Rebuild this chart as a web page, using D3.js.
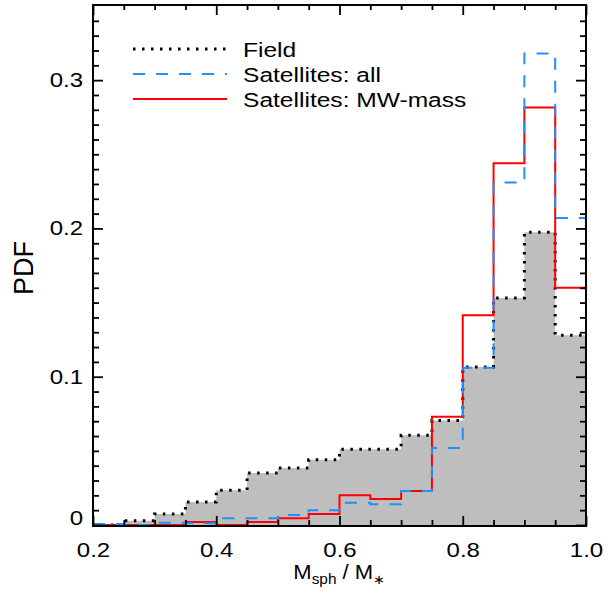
<!DOCTYPE html>
<html>
<head>
<meta charset="utf-8">
<script src="https://cdn.jsdelivr.net/npm/d3@7"></script>
<style>
  body { margin: 0; background: white; }
  svg text { font-family: "Liberation Sans", Arial, sans-serif; fill: #000; white-space: pre; }
</style>
</head>
<body>
<svg id="chart" width="616" height="592"></svg>
<script>
// bin left edges (width 0.05)
const binEdges = [0.20, 0.25, 0.30, 0.35, 0.40, 0.45, 0.50, 0.55, 0.60, 0.65, 0.70, 0.75, 0.80, 0.85, 0.90, 0.95];
const binEnd = 1.0;

// PDF values
const field  = [0.000, 0.0028, 0.0075, 0.0155, 0.0235, 0.035, 0.0385, 0.044, 0.051, 0.051, 0.0605, 0.0705, 0.1065, 0.153, 0.1975, 0.128];
const satAll = [0.0007, 0.000, 0.0015, 0.0012, 0.0045, 0.0045, 0.0067, 0.010, 0.015, 0.014, 0.023, 0.052, 0.106, 0.231, 0.318, 0.207];
const satMW  = [0.000, 0.000, 0.000, 0.002, 0.000, 0.002, 0.0045, 0.0074, 0.020, 0.0175, 0.023, 0.073, 0.1415, 0.244, 0.2815, 0.160];

const xMajor = [0.2, 0.4, 0.6, 0.8, 1.0];
const xMinor = [0.25, 0.3, 0.35, 0.45, 0.5, 0.55, 0.65, 0.7, 0.75, 0.85, 0.9, 0.95];
const yMajor = [0, 0.1, 0.2, 0.3];
const yMinorStep = 0.01;

const legendNames = ["Field", "Satellites: all", "Satellites: MW-mass"];

const svg = d3.select("#chart");
const mLeft = 93, mRight = 586, mTop = 5, mBottom = 526;

const x = d3.scaleLinear().domain([0.2, 1.0]).range([mLeft, mRight]);
const y = d3.scaleLinear().domain([0, 0.35]).range([525, 6]);

// tick label font is drawn wide in the original
const FS = 20, SX = 1.2;

// step points: each bin start plus final edge
const steps = vals => binEdges.map((e, i) => [e, vals[i]]).concat([[binEnd, vals[vals.length - 1]]]);

// gray fill under the field
const area = d3.area()
  .x(d => x(d[0])).y0(y(0)).y1(d => y(d[1]))
  .curve(d3.curveStepAfter);
svg.append("path").attr("d", area(steps(field))).attr("fill", "#bebebe");

const line = d3.line().x(d => x(d[0])).y(d => y(d[1])).curve(d3.curveStepAfter);

const styles = [
  { stroke: "#000", width: 3, dash: "2.5,6.5" },
  { stroke: "#1e90ff", width: 2, dash: "12,11" },
  { stroke: "#ff0000", width: 2, dash: null }
];

svg.append("path").attr("d", line(steps(field)))
  .attr("fill", "none").attr("stroke", styles[0].stroke)
  .attr("stroke-width", styles[0].width).attr("stroke-dasharray", styles[0].dash);
svg.append("path").attr("d", line(steps(satMW)))
  .attr("fill", "none").attr("stroke", styles[2].stroke)
  .attr("stroke-width", styles[2].width);
svg.append("path").attr("d", line(steps(satAll)))
  .attr("fill", "none").attr("stroke", styles[1].stroke)
  .attr("stroke-width", styles[1].width).attr("stroke-dasharray", styles[1].dash);

// axes: ticks point inward on all four sides
const yMinor = d3.range(0, 0.35, yMinorStep).filter(v => !yMajor.some(m => Math.abs(m - v) < 1e-6));

function ticks(axis, tr, vals, len, labels, pad) {
  const g = svg.append("g").attr("transform", tr)
    .call(axis.tickValues(vals).tickSizeInner(-len).tickSizeOuter(0)
      .tickPadding(pad || 0).tickFormat(labels ? labels : ""));
  g.select(".domain").remove();
  g.selectAll("line").attr("stroke", "#000").attr("stroke-width", 1.8);
  g.selectAll("text").attr("font-size", FS).attr("font-family", null);
  return g;
}

const fmtX = d3.format(".1f");
const fmtY = d => d === 0 ? "0" : d3.format(".1f")(d);

const gx = ticks(d3.axisBottom(x), `translate(0,${mBottom})`, xMajor, 10, fmtX, 17);
gx.selectAll("text").attr("transform", `scale(${SX},1)`);
ticks(d3.axisBottom(x), `translate(0,${mBottom})`, xMinor, 6);
ticks(d3.axisTop(x), `translate(0,${mTop})`, xMajor, 10);
ticks(d3.axisTop(x), `translate(0,${mTop})`, xMinor, 5);

const gy = ticks(d3.axisLeft(y), `translate(${mLeft},0)`, yMajor, 10, fmtY, 10);
gy.selectAll("text").attr("transform", `scale(${SX},1)`).attr("x", -10 / SX)
  .attr("y", d => d === 0 ? -7 : 0);
ticks(d3.axisLeft(y), `translate(${mLeft},0)`, yMinor, 6);
ticks(d3.axisRight(y), `translate(${mRight},0)`, yMajor, 10);
ticks(d3.axisRight(y), `translate(${mRight},0)`, yMinor, 6);

// frame
svg.append("rect").attr("x", mLeft).attr("y", mTop)
  .attr("width", mRight - mLeft).attr("height", mBottom - mTop)
  .attr("fill", "none").attr("stroke", "#000").attr("stroke-width", 2);

// axis titles
const xt = svg.append("text")
  .attr("transform", `translate(${(mLeft + mRight) / 2},579) scale(1.1,1)`)
  .attr("text-anchor", "middle").attr("font-size", 20);
xt.append("tspan").text("M");
xt.append("tspan").attr("font-size", 14).attr("dy", 5).text("sph");
xt.append("tspan").attr("dy", -5).text(" / M");
xt.append("tspan").attr("font-size", 13).attr("dy", 5).text("\u2217");

svg.append("text")
  .attr("transform", `translate(33,268) rotate(-90)`)
  .attr("text-anchor", "middle").attr("font-size", 27).text("PDF");

// legend
const legend = svg.append("g");
legendNames.forEach((name, i) => {
  const ly = 49 + i * 25;
  const s = styles[i];
  legend.append("line").attr("x1", 133).attr("x2", 227).attr("y1", ly).attr("y2", ly)
    .attr("stroke", s.stroke).attr("stroke-width", s.width)
    .attr("stroke-dasharray", s.dash);
  legend.append("text")
    .attr("transform", `translate(243,${ly + 7.5}) scale(1.17,1)`)
    .attr("font-size", 21).text(name);
});
</script>
</body>
</html>
